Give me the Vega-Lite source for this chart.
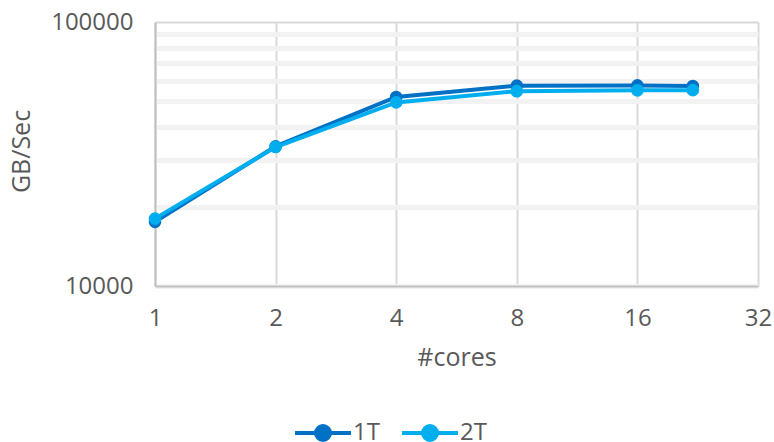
{
  "$schema": "https://vega.github.io/schema/vega-lite/v6.json",
  "width": 603,
  "height": 264,
  "autosize": {"type": "none"},
  "padding": {"left": 155, "top": 22, "right": 16, "bottom": 156},
  "background": "#ffffff",
  "config": {
    "font": "Open Sans",
    "view": {"stroke": null},
    "axis": {
      "labelFont": "Open Sans",
      "titleFont": "Open Sans",
      "labelColor": "#595959",
      "titleColor": "#595959",
      "titleFontWeight": "normal",
      "labelFontSize": 24,
      "titleFontSize": 25,
      "ticks": false,
      "domainColor": "#bfbfbf",
      "domainWidth": 2
    },
    "legend": {
      "labelFont": "Open Sans",
      "labelColor": "#595959",
      "labelFontSize": 24
    }
  },
  "data": {
    "values": [
      {"cores": 1, "threads": "1T", "gbps": 17500},
      {"cores": 2, "threads": "1T", "gbps": 33800},
      {"cores": 4, "threads": "1T", "gbps": 52000},
      {"cores": 8, "threads": "1T", "gbps": 57400},
      {"cores": 16, "threads": "1T", "gbps": 57500},
      {"cores": 22, "threads": "1T", "gbps": 57200},
      {"cores": 1, "threads": "2T", "gbps": 18000},
      {"cores": 2, "threads": "2T", "gbps": 33600},
      {"cores": 4, "threads": "2T", "gbps": 49600},
      {"cores": 8, "threads": "2T", "gbps": 54700},
      {"cores": 16, "threads": "2T", "gbps": 55100},
      {"cores": 22, "threads": "2T", "gbps": 55200}
    ]
  },
  "encoding": {
    "x": {
      "field": "cores",
      "type": "quantitative",
      "scale": {"type": "log", "base": 2, "domain": [1, 32], "nice": false},
      "axis": {
        "title": "#cores",
        "values": [1, 2, 4, 8, 16, 32],
        "format": "d",
        "grid": true,
        "gridColor": "#d9d9d9",
        "gridWidth": 2,
        "labelPadding": 20,
        "titleY": 71,
        "titleBaseline": "middle",
        "labelFlush": false
      }
    },
    "y": {
      "field": "gbps",
      "type": "quantitative",
      "scale": {"type": "log", "domain": [10000, 100000], "nice": false},
      "axis": {
        "title": "GB/Sec",
        "values": [10000, 20000, 30000, 40000, 50000, 60000, 70000, 80000, 90000, 100000],
        "labelExpr": "datum.value == 10000 || datum.value == 100000 ? datum.value : ''",
        "format": "d",
        "grid": true,
        "gridColor": {"condition": {"test": "datum.value == 100000", "value": "#d9d9d9"}, "value": "#f2f2f2"},
        "gridWidth": {"condition": {"test": "datum.value == 100000", "value": 2}, "value": 5},
        "labelPadding": 22,
        "titleX": -134,
        "titleY": 129,
        "titleBaseline": "middle",
        "titleAlign": "center",
        "labelFlush": false
      }
    },
    "color": {
      "field": "threads",
      "type": "nominal",
      "scale": {"domain": ["1T", "2T"], "range": ["#0071c5", "#00aeef"]},
      "legend": {
        "title": null,
        "orient": "none",
        "direction": "horizontal",
        "legendX": 152,
        "legendY": 395,
        "symbolType": "M-2,0H2M0.5,0A0.5,0.5 0 1,1 -0.5,0A0.5,0.5 0 1,1 0.5,0Z",
        "symbolSize": 784,
        "symbolStrokeWidth": 4,
        "symbolOffset": 0,
        "labelOffset": 14,
        "columnPadding": 14
      }
    }
  },
  "layer": [
    {"mark": {"type": "line", "strokeWidth": 4}},
    {"mark": {"type": "point", "filled": true, "size": 160, "opacity": 1}}
  ]
}
